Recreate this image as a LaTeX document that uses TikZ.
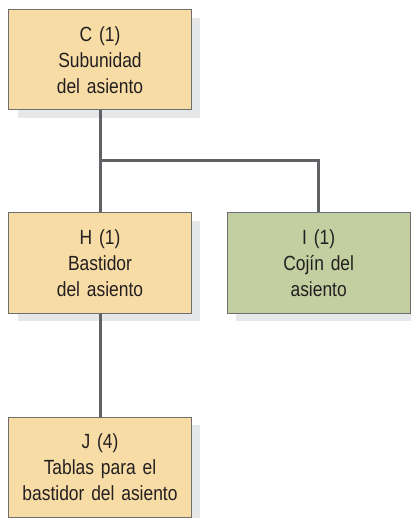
\documentclass[tikz,border=0pt]{standalone}
\usepackage{fontspec}
\setmainfont{Liberation Sans}[FakeStretch=0.85, WordSpace=0.75]
\usetikzlibrary{positioning,shadows}

\definecolor{parttan}{RGB}{248,220,166}
\definecolor{partgreen}{RGB}{195,206,161}
\definecolor{edgegray}{RGB}{110,111,114}
\definecolor{linkgray}{RGB}{96,97,100}
\definecolor{shadowgray}{RGB}{230,231,232}
\definecolor{textdark}{RGB}{35,31,32}

\begin{document}
\begin{tikzpicture}[node distance=102pt and 35pt,
   partbox/.style={draw=edgegray, line width=1pt, rectangle, fill=parttan, minimum width=182pt, minimum height=100pt, text width=176pt, align=center, text=textdark, font=\fontsize{20.5pt}{26pt}\selectfont, drop shadow={shadow xshift=9pt, shadow yshift=-8pt, fill=shadowgray, opacity=1}},
   link/.style={draw=linkgray, line width=3pt}
]
\useasboundingbox (-100pt,60pt) rectangle (311pt,-458pt);
% Nodes
\node [partbox] (C) at (0,0) {C (1)\\Subunidad\\del asiento};
\node [partbox, below=of C] (H) {H (1)\\Bastidor\\del asiento};
\node [partbox, fill=partgreen, right=of H] (I) {I (1)\\Coj\'in del\\asiento};
\node [partbox, below=103pt of H] (J) {J (4)\\Tablas para el\\bastidor del asiento};
\coordinate [below=50pt of C.south] (split);

% Connections
\draw [link] (C) -- (H);
\draw [link] (split) -| (I.north);
\draw [link] (H) -- (J);

\end{tikzpicture}
\end{document}
